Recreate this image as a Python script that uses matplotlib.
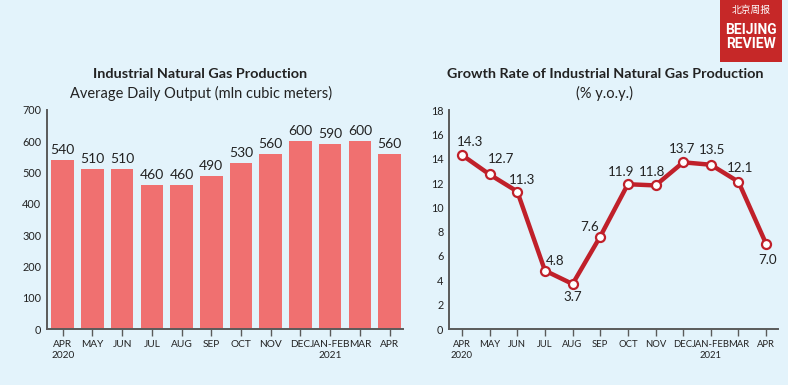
import matplotlib
matplotlib.use("Agg")
import matplotlib.pyplot as plt
from matplotlib.patches import Rectangle

months = ["APR\n2020", "MAY", "JUN", "JUL", "AUG", "SEP", "OCT", "NOV", "DEC",
          "JAN-FEB\n2021", "MAR", "APR"]
output = [540, 510, 510, 460, 460, 490, 530, 560, 600, 590, 600, 560]
growth = [14.3, 12.7, 11.3, 4.8, 3.7, 7.6, 11.9, 11.8, 13.7, 13.5, 12.1, 7.0]
growth_labels = ["14.3", "12.7", "11.3", "4.8", "3.7", "7.6", "11.9", "11.8",
                 "13.7", "13.5", "12.1", "7.0"]

BG = "#E3F3FB"
BAR = "#F07070"
LINE = "#C0202A"
TXT = "#222222"

plt.rcParams['font.family'] = ['Lato', 'DejaVu Sans']

fig = plt.figure(figsize=(7.88, 3.85), dpi=100, facecolor=BG)

def style(ax, xsize):
    ax.set_facecolor(BG)
    for s in ("top", "right"):
        ax.spines[s].set_visible(False)
    for s in ("left", "bottom"):
        ax.spines[s].set_color("#5a5a5a")
        ax.spines[s].set_linewidth(1.4)
    ax.tick_params(axis="y", length=0, pad=4)
    ax.tick_params(axis="x", length=5, width=1, color="#5a5a5a", pad=3)
    for lab in ax.get_yticklabels():
        lab.set_fontsize(7.8)
        lab.set_color(TXT)
    for lab in ax.get_xticklabels():
        lab.set_fontsize(xsize)
        lab.set_color(TXT)

# Left chart
ax1 = fig.add_axes([47/788, 1-329/385, (403-47)/788, (329-110)/385])
x = list(range(len(months)))
ax1.bar(x, output, width=0.76, color=BAR, zorder=2)
for xi, v in zip(x, output):
    ax1.annotate(str(v), (xi, v), xytext=(0, 4), textcoords="offset pixels",
                 ha="center", va="bottom", fontsize=10, color=TXT)
ax1.set_ylim(0, 700)
ax1.set_yticks(range(0, 701, 100))
ax1.set_xlim(-0.53, 11.45)
ax1.set_xticks(x)
ax1.set_xticklabels(months)
style(ax1, 7.3)

# Right chart
ax2 = fig.add_axes([449/788, 1-329/385, (778-449)/788, (329-110)/385])
ax2.plot(x, growth, color=LINE, lw=3.2, zorder=2)
ax2.plot(x, growth, 'o', ms=6.5, mfc="white", mec=LINE, mew=1.6, zorder=3)
# label offsets in pixels (dx right, dy up)
offsets = [(8, 13), (11, 15), (5, 12), (10, 10), (0, -13), (-11, 10),
           (-7, 12), (-3, 13), (-1, 13), (1, 15), (2, 14), (1, -16)]
for i, (v, lab) in enumerate(zip(growth, growth_labels)):
    dx, dy = offsets[i]
    ax2.annotate(lab, (i, v), xytext=(dx, dy), textcoords="offset pixels",
                 ha="center", va="center", fontsize=9.6, color=TXT)
ax2.set_ylim(0, 18)
ax2.set_yticks(range(0, 19, 2))
ax2.set_xlim(-0.47, 11.43)
ax2.set_xticks(x)
ax2.set_xticklabels(months)
style(ax2, 6.8)

# Titles
fig.text(200/788, 1-74/385, "Industrial Natural Gas Production", ha="center", va="center",
         fontsize=10.4, fontweight="bold", color=TXT)
fig.text(201/788, 1-93/385, "Average Daily Output (mln cubic meters)", ha="center", va="center",
         fontsize=10.5, color=TXT)
fig.text(605/788, 1-74/385, "Growth Rate of Industrial Natural Gas Production", ha="center",
         va="center", fontsize=10.4, fontweight="bold", color=TXT)
fig.text(605/788, 1-93/385, "(% y.o.y.)", ha="center", va="center", fontsize=10.5, color=TXT)

# Logo
fig.patches.append(Rectangle((720/788, 1-62/385), 62/788, 62/385, transform=fig.transFigure,
                             facecolor="#C62828", edgecolor="none", zorder=5))
fig.text(751/788, 1-10/385, "北京周报", ha="center", va="center", fontsize=7, color="white",
         family=['Noto Sans CJK SC', 'DejaVu Sans'], zorder=6)
fig.text(751/788, 1-37/385, "BEIJING\nREVIEW", ha="center", va="center", fontsize=10,
         fontweight="bold", color="white", linespacing=0.95,
         family=['Roboto', 'DejaVu Sans'], zorder=6)

fig.savefig("out.png", dpi=100, facecolor=BG)
